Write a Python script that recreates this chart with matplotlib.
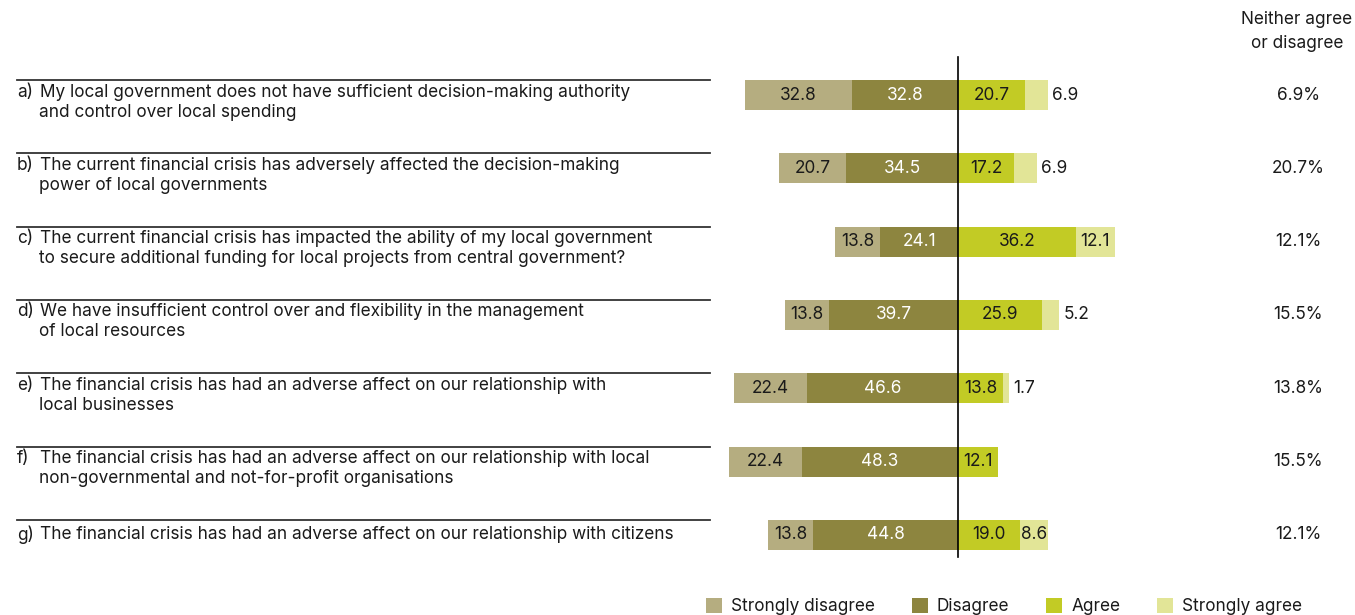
import matplotlib.pyplot as plt
from matplotlib.transforms import blended_transform_factory

plt.rcParams['font.family'] = ['Inter', 'DejaVu Sans']

# survey answers, percent of respondents
prefixes = ["a)", "b)", "c)", "d)", "e)", "f)", "g)"]
questions = [
    ["My local government does not have sufficient decision-making authority",
     "and control over local spending"],
    ["The current financial crisis has adversely affected the decision-making",
     "power of local governments"],
    ["The current financial crisis has impacted the ability of my local government",
     "to secure additional funding for local projects from central government?"],
    ["We have insufficient control over and flexibility in the management",
     "of local resources"],
    ["The financial crisis has had an adverse affect on our relationship with",
     "local businesses"],
    ["The financial crisis has had an adverse affect on our relationship with local",
     "non-governmental and not-for-profit organisations"],
    ["The financial crisis has had an adverse affect on our relationship with citizens"],
]
strongly_disagree = [32.8, 20.7, 13.8, 13.8, 22.4, 22.4, 13.8]
disagree = [32.8, 34.5, 24.1, 39.7, 46.6, 48.3, 44.8]
agree = [20.7, 17.2, 36.2, 25.9, 13.8, 12.1, 19.0]
strongly_agree = [6.9, 6.9, 12.1, 5.2, 1.7, 0.0, 8.6]
neither = [6.9, 20.7, 12.1, 15.5, 13.8, 15.5, 12.1]

series_names = ["Strongly disagree", "Disagree", "Agree", "Strongly agree"]
colors = ["#b5ad80", "#8d853f", "#c2cb25", "#e2e597"]
text_col = "#1a1a1a"
fs = 12.4

W, H = 1355, 615
fig = plt.figure(figsize=(W / 100, H / 100), dpi=100)

# bar area: zero line at x=958px, 3.245 px per percent, rows every 73.3px from y=95px
PX_X = 3.245
ZERO_X = 958.3
ROW0, ROW_STEP = 95, 73.3
left_px, right_px, top_px, bot_px = 700, 1220, 40, 580
ax = fig.add_axes([left_px / W, 1 - bot_px / H, (right_px - left_px) / W, (bot_px - top_px) / H])
ax.set_xlim((left_px - ZERO_X) / PX_X, (right_px - ZERO_X) / PX_X)
ax.set_ylim((bot_px - ROW0) / ROW_STEP, (top_px - ROW0) / ROW_STEP)
ax.axis("off")

rows = list(range(len(prefixes)))
bh = 30 / ROW_STEP

neg_total = [a + b for a, b in zip(strongly_disagree, disagree)]
b_sd = ax.barh(rows, strongly_disagree, left=[-t for t in neg_total], height=bh,
               color=colors[0], label=series_names[0])
b_d = ax.barh(rows, disagree, left=[-v for v in disagree], height=bh,
              color=colors[1], label=series_names[1])
b_a = ax.barh(rows, agree, left=0, height=bh, color=colors[2], label=series_names[2])
b_sa = ax.barh(rows, strongly_agree, left=agree, height=bh, color=colors[3], label=series_names[3])

# value labels
for i in rows:
    ax.text(-neg_total[i] + strongly_disagree[i] / 2, i, f"{strongly_disagree[i]:.1f}",
            ha="center", va="center", fontsize=fs, color=text_col)
    ax.text(-disagree[i] / 2, i, f"{disagree[i]:.1f}",
            ha="center", va="center", fontsize=fs, color="white")
    ax.text(agree[i] / 2, i, f"{agree[i]:.1f}",
            ha="center", va="center", fontsize=fs, color=text_col)
    sa = strongly_agree[i]
    if sa >= 8:
        ax.text(agree[i] + sa / 2, i, f"{sa:.1f}", ha="center", va="center",
                fontsize=fs, color=text_col)
    elif sa > 0:
        ax.text(agree[i] + sa + 1.3, i, f"{sa:.1f}", ha="left", va="center",
                fontsize=fs, color=text_col)

# centre line
ax.plot([0, 0], [(57 - ROW0) / ROW_STEP, (557 - ROW0) / ROW_STEP], color="black", lw=1.2)

# question labels and separators on the left, neutral share on the right
tr = blended_transform_factory(fig.transFigure, ax.transData)
for i in rows:
    ax.plot([17 / W, 710 / W], [i - 15 / ROW_STEP] * 2, color="#333333", lw=1.3,
            transform=tr, clip_on=False)
    lines = questions[i]
    y1 = i if len(lines) == 1 else i - 3 / ROW_STEP
    ax.text(17 / W, y1, prefixes[i], transform=tr, ha="left", va="center",
            fontsize=fs, color=text_col)
    ax.text(40 / W, y1, lines[0], transform=tr, ha="left", va="center",
            fontsize=fs, color=text_col)
    if len(lines) > 1:
        ax.text(39 / W, i + 17 / ROW_STEP, lines[1], transform=tr, ha="left",
                va="center", fontsize=fs, color=text_col)
    ax.text(1298 / W, i, f"{neither[i]:.1f}%", transform=tr, ha="center",
            va="center", fontsize=fs, color=text_col)

fig.text(1297 / W, 1 - 20 / H, "Neither agree", ha="center", va="center",
         fontsize=fs, color=text_col)
fig.text(1297 / W, 1 - 43 / H, "or disagree", ha="center", va="center",
         fontsize=fs, color=text_col)

# legend along the bottom edge
fig.legend(handles=[b_sd, b_d, b_a, b_sa], labels=series_names, ncol=4,
           loc="upper left", bbox_to_anchor=(706 / W, 1 - 598 / H),
           frameon=False, fontsize=fs, handlelength=0.93, handleheight=0.93,
           handletextpad=0.52, columnspacing=2.15, borderpad=0, borderaxespad=0,
           labelcolor=text_col)

fig.savefig("out.png", dpi=100)
